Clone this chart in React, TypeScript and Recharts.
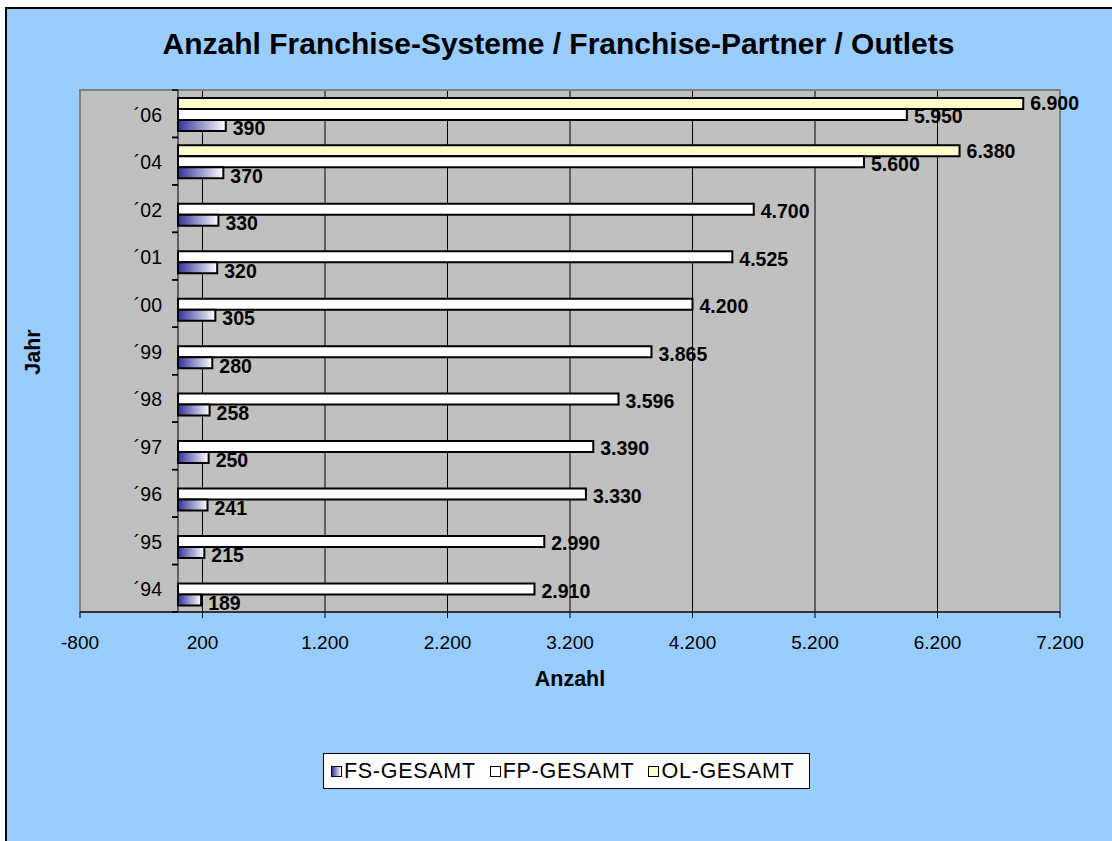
import { BarChart, Bar, XAxis, YAxis, CartesianGrid, ReferenceLine, ReferenceArea, LabelList, Legend } from 'recharts'

const years = ['´94', '´95', '´96', '´97', '´98', '´99', '´00', '´01', '´02', '´04', '´06']
const fsGesamt = [189, 215, 241, 250, 258, 280, 305, 320, 330, 370, 390]
const fpGesamt = [2910, 2990, 3330, 3390, 3596, 3865, 4200, 4525, 4700, 5600, 5950]
const olGesamt: (number | null)[] = [null, null, null, null, null, null, null, null, null, 6380, 6900]
const xTicks = [-800, 200, 1200, 2200, 3200, 4200, 5200, 6200, 7200]

const data = years.map((year, i) => ({ year, fs: fsGesamt[i], fp: fpGesamt[i], ol: olGesamt[i] }))

const FONT = '"Liberation Sans", Arial, sans-serif'
const W = 1112
const H = 841
const Y_AXIS_W = 1
const margin = { top: 90, right: 52, bottom: 139, left: 80 - Y_AXIS_W }
const X_AXIS_H = 90
const X_MIN = -800
const X_MAX = 7200
const PLOT_LEFT = margin.left + Y_AXIS_W
const PLOT_W = W - PLOT_LEFT - margin.right
const PLOT_H = H - margin.top - margin.bottom - X_AXIS_H
const ZERO_X = PLOT_LEFT + ((0 - X_MIN) / (X_MAX - X_MIN)) * PLOT_W
const BAND = PLOT_H / years.length

const FS_GRAD = 'linear-gradient(to right, #333399, #ffffff)'

const fmt = (v: any) => {
  if (v === null || v === undefined || v === '') return ''
  const n = Number(v)
  const s = String(Math.abs(n)).replace(/\B(?=(\d{3})+(?!\d))/g, '.')
  return n < 0 ? '-' + s : s
}

// category labels + Excel style tick marks sit on the zero line, not the plot edge
function YearTick(props: any) {
  const { y, payload } = props
  return (
    <g>
      <line x1={ZERO_X - 6} x2={ZERO_X} y1={y - BAND / 2} y2={y - BAND / 2} stroke="#000" strokeWidth={1.5} />
      <line x1={ZERO_X - 6} x2={ZERO_X} y1={y + BAND / 2} y2={y + BAND / 2} stroke="#000" strokeWidth={1.5} />
      <text x={ZERO_X - 16} y={y + 1} dy="0.36em" textAnchor="end" fontSize={19.5} fill="#000" fontFamily={FONT}>
        {payload.value}
      </text>
    </g>
  )
}

const legendItems = [
  { name: 'FS-GESAMT', swatch: FS_GRAD },
  { name: 'FP-GESAMT', swatch: '#ffffff' },
  { name: 'OL-GESAMT', swatch: '#FFFFCC' },
]

function LegendBox() {
  return (
    <div
      style={{
        boxSizing: 'border-box',
        width: 487,
        height: 36,
        border: '1px solid #000',
        background: '#fff',
        display: 'flex',
        alignItems: 'center',
        paddingLeft: 7,
        fontFamily: FONT,
        fontSize: 21.5,
        letterSpacing: 0.7,
        color: '#000',
      }}
    >
      {legendItems.map((it, i) => (
        <div key={it.name} style={{ display: 'flex', alignItems: 'center', marginLeft: i === 0 ? 0 : 14 }}>
          <span
            style={{
              display: 'inline-block',
              boxSizing: 'border-box',
              width: 11,
              height: 11,
              border: '1px solid #000',
              background: it.swatch,
              marginRight: 2,
            }}
          />
          <span>{it.name}</span>
        </div>
      ))}
    </div>
  )
}

export default function App() {
  const labelStyle = { fill: '#000', fontWeight: 'bold', fontSize: 19.5, fontFamily: FONT }
  return (
    <div style={{ position: 'fixed', left: 0, top: 0, width: W, height: H, background: '#fff', overflow: 'hidden', fontFamily: FONT }}>
      <div style={{ position: 'absolute', left: 5, top: 7, width: W + 20, height: H + 20, background: '#99CCFF', border: '2px solid #000' }} />
      <div
        style={{
          position: 'absolute',
          left: 0,
          width: 1117,
          top: 29,
          textAlign: 'center',
          fontSize: 30,
          lineHeight: 1,
          fontWeight: 'bold',
          color: '#000',
        }}
      >
        Anzahl Franchise-Systeme / Franchise-Partner / Outlets
      </div>
      <div
        style={{
          position: 'absolute',
          left: 34,
          top: 352,
          transform: 'translate(-50%, -50%) rotate(-90deg)',
          fontSize: 21.5,
          lineHeight: 1,
          fontWeight: 'bold',
          whiteSpace: 'nowrap',
        }}
      >
        Jahr
      </div>
      <div style={{ position: 'absolute', left: 0, top: 0 }}>
        <BarChart
          width={W}
          height={H}
          data={data}
          layout="vertical"
          margin={margin}
          barCategoryGap="16.6%"
          barGap={0}
        >
          <defs>
            <linearGradient id="fsGrad" x1="0" y1="0" x2="1" y2="0">
              <stop offset="0%" stopColor="#333399" />
              <stop offset="100%" stopColor="#ffffff" />
            </linearGradient>
          </defs>
          <CartesianGrid horizontal={false} stroke="#000" fill="#C0C0C0" fillOpacity={1} />
          <ReferenceArea x1={X_MIN} x2={X_MAX} fill="none" stroke="#808080" strokeWidth={2} ifOverflow="visible" />
          <XAxis
            type="number"
            domain={[X_MIN, X_MAX]}
            ticks={xTicks}
            interval={0}
            allowDataOverflow
            height={X_AXIS_H}
            tickSize={6}
            tickMargin={18}
            axisLine={{ stroke: '#333', strokeWidth: 2 }}
            tickLine={{ stroke: '#000' }}
            tick={{ fill: '#000', fontSize: 19, fontFamily: FONT }}
            tickFormatter={fmt}
            label={{ value: 'Anzahl', position: 'insideBottom', offset: 16, fill: '#000', fontWeight: 'bold', fontSize: 21.5, fontFamily: FONT }}
          />
          <YAxis
            type="category"
            dataKey="year"
            reversed
            width={Y_AXIS_W}
            interval={0}
            axisLine={false}
            tickLine={false}
            tick={(p: any) => <YearTick {...p} />}
          />
          <ReferenceLine x={0} stroke="#000" />
          <Legend verticalAlign="middle" align="center" wrapperStyle={{ left: 323, top: 753, width: 487, height: 36 }} content={() => <LegendBox />} />
          <Bar dataKey="ol" name="OL-GESAMT" fill="#FFFFCC" stroke="#000" strokeWidth={2} isAnimationActive={false}>
            <LabelList dataKey="ol" position="right" offset={7} formatter={fmt} {...labelStyle} />
          </Bar>
          <Bar dataKey="fp" name="FP-GESAMT" fill="#ffffff" stroke="#000" strokeWidth={2} isAnimationActive={false}>
            <LabelList dataKey="fp" position="right" offset={7} dy={2} formatter={fmt} {...labelStyle} />
          </Bar>
          <Bar dataKey="fs" name="FS-GESAMT" fill="url(#fsGrad)" stroke="#000" strokeWidth={2} isAnimationActive={false}>
            <LabelList dataKey="fs" position="right" offset={7} dy={3} formatter={fmt} {...labelStyle} />
          </Bar>
        </BarChart>
      </div>
    </div>
  )
}
